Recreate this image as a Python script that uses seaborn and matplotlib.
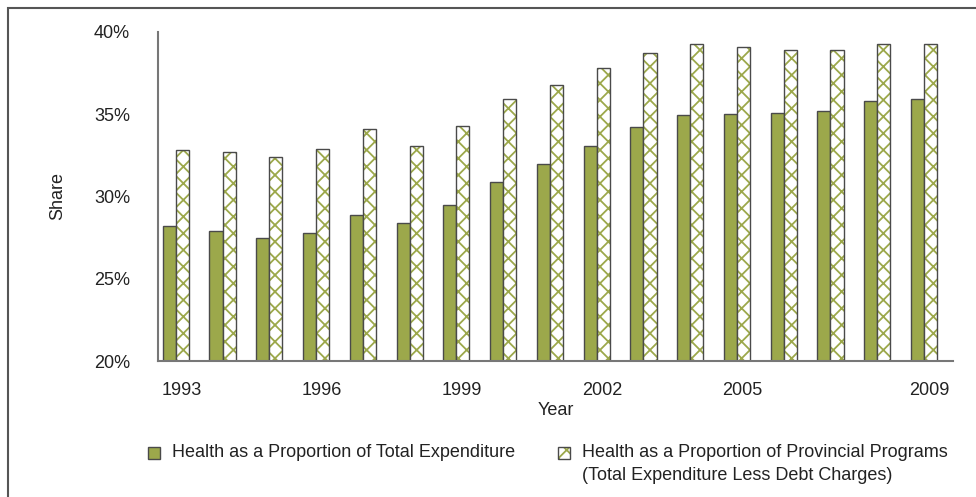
import matplotlib
matplotlib.use('Agg')
import matplotlib.pyplot as plt
import pandas as pd
import seaborn as sns
from matplotlib.patches import Rectangle
from matplotlib.ticker import PercentFormatter

years = list(range(1993, 2010))
total_share = [28.2, 27.9, 27.5, 27.8, 28.9, 28.4, 29.5, 30.9, 32.0, 33.1,
               34.2, 34.95, 35.0, 35.1, 35.2, 35.8, 35.9]
program_share = [32.8, 32.7, 32.4, 32.9, 34.1, 33.1, 34.3, 35.9, 36.8, 37.8,
                 38.7, 39.3, 39.1, 38.9, 38.9, 39.3, 39.25]
shown_years = [1993, 1996, 1999, 2002, 2005, 2009]
series_names = ['Health as a Proportion of Total Expenditure',
                'Health as a Proportion of Provincial Programs\n(Total Expenditure Less Debt Charges)']

green = '#9CA84B'
edge = '#4a4a4a'
text_col = '#222222'

df = pd.DataFrame({
    'year': years * 2,
    'value': total_share + program_share,
    'series': [series_names[0]] * len(years) + [series_names[1]] * len(years),
})

sns.set_style('white')
plt.rcParams['font.family'] = ['Liberation Sans', 'DejaVu Sans']
plt.rcParams['hatch.linewidth'] = 1.3

fig = plt.figure(figsize=(9.76, 4.97), dpi=100)
ax = fig.add_axes([158 / 976, 1 - 361 / 497, (953 - 158) / 976, (361 - 32) / 497])

sns.barplot(data=df, x='year', y='value', hue='series', palette=[green, 'white'],
            saturation=1, width=0.56, edgecolor=edge, linewidth=1.0, legend=False, ax=ax)

# the bar pairs sit a little left of the category centre in the original
for cont in ax.containers:
    for bar in cont:
        bar.set_x(bar.get_x() - 0.12)

# hatched bars: green hatch, dark outline drawn on top
for bar in ax.containers[1]:
    bar.set_hatch('xx')
    bar.set_edgecolor(green)
    bar.set_linewidth(0)
    ax.add_patch(Rectangle(bar.get_xy(), bar.get_width(), bar.get_height(),
                           fill=False, edgecolor=edge, linewidth=1.0, zorder=bar.get_zorder() + 0.1))

ax.set_ylim(20, 40)
ax.set_yticks([20, 25, 30, 35, 40])
ax.yaxis.set_major_formatter(PercentFormatter(decimals=0))
ax.set_xticks(range(len(years)), [str(y) if y in shown_years else '' for y in years])
ax.set_xticks([i - 0.5 for i in range(len(years) + 1)], minor=True)
ax.tick_params(axis='x', which='major', length=0, pad=15, labelsize=13, colors=text_col)
ax.tick_params(axis='x', which='minor', length=6, width=1.2, color='#555555', direction='out')
ax.tick_params(axis='y', length=8, width=1.2, color='#555555', direction='out',
               labelsize=13, labelcolor=text_col, pad=12)
ax.set_xlim(-0.5, len(years) - 0.5)

sns.despine(ax=ax)
for s in ['left', 'bottom']:
    ax.spines[s].set_color('#777777')
    ax.spines[s].set_linewidth(1.5)

ax.set_xlabel('Year', fontsize=13, color=text_col, labelpad=2)
ax.set_ylabel('Share', fontsize=13, color=text_col, labelpad=20)

# legend, both swatches aligned with the first text line
legend_items = [(148, series_names[0], dict(facecolor=green, edgecolor=edge)),
                (558, series_names[1], dict(facecolor='white', edgecolor=edge, hatch='xx'))]
for x0, label, style in legend_items:
    sw = Rectangle((x0 / 976, 1 - 459 / 497), 12 / 976, 12 / 497, transform=fig.transFigure,
                   linewidth=1.0, **style)
    if 'hatch' in style:
        sw.set_edgecolor(green)
        sw.set_linewidth(0)
        fig.add_artist(sw)
        sw = Rectangle((x0 / 976, 1 - 459 / 497), 12 / 976, 12 / 497, transform=fig.transFigure,
                       fill=False, edgecolor=edge, linewidth=1.0)
    fig.add_artist(sw)
    fig.text((x0 + 24) / 976, 1 - 444 / 497, label, fontsize=13, color=text_col,
             va='top', ha='left', linespacing=1.45)

fig.add_artist(Rectangle((8 / 976, -0.1), 1.2, 1.1 - 8 / 497, transform=fig.transFigure,
                         fill=False, edgecolor='#555555', linewidth=1.5))

fig.savefig('out.png', dpi=100)
